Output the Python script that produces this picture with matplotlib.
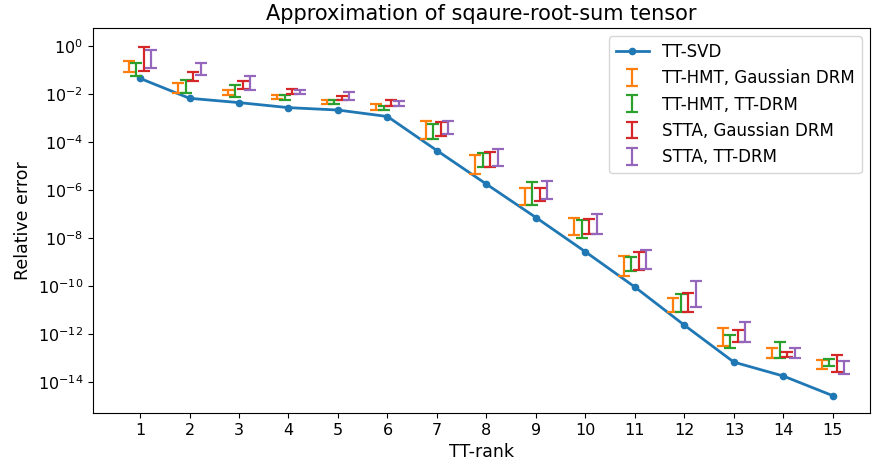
import numpy as np
import matplotlib
matplotlib.use("Agg")
import matplotlib.pyplot as plt
from matplotlib.ticker import NullLocator

ranks = np.arange(1, 16)

# log10 of TT-SVD relative error
svd_log = [-1.35, -2.18, -2.36, -2.57, -2.67, -2.94, -4.36, -5.76, -7.15,
           -8.58, -10.05, -11.64, -13.18, -13.76, -14.58]

# log10 of (top, bottom) of each error bar
hmt_gauss = [(-0.61, -1.10), (-1.53, -1.95), (-1.83, -2.03), (-2.03, -2.22),
             (-2.24, -2.40), (-2.43, -2.67), (-3.14, -3.88), (-4.54, -5.32),
             (-5.92, -6.61), (-7.15, -7.90), (-8.75, -9.58), (-10.50, -11.11),
             (-11.76, -12.50), (-12.57, -13.01), (-13.08, -13.46)]
hmt_tt = [(-0.70, -1.24), (-1.42, -1.95), (-1.64, -2.11), (-2.05, -2.26),
          (-2.26, -2.40), (-2.49, -2.65), (-3.26, -3.88), (-4.47, -5.03),
          (-5.69, -6.61), (-7.25, -8.01), (-8.80, -9.36), (-10.35, -11.07),
          (-12.04, -12.57), (-12.35, -12.99), (-13.04, -13.32)]
stta_gauss = [(-0.03, -1.03), (-1.07, -1.45), (-1.46, -1.80), (-1.78, -2.00),
              (-2.08, -2.25), (-2.25, -2.50), (-3.17, -3.75), (-4.44, -5.03),
              (-5.92, -6.46), (-7.21, -7.83), (-8.57, -9.33), (-10.31, -11.08),
              (-11.83, -12.35), (-12.76, -12.97), (-12.88, -13.60)]
stta_tt = [(-0.17, -0.93), (-0.72, -1.21), (-1.24, -1.83), (-1.82, -2.00),
           (-1.93, -2.24), (-2.30, -2.49), (-3.11, -3.67), (-4.29, -5.00),
           (-5.64, -6.39), (-6.99, -7.85), (-8.51, -9.30), (-9.80, -10.88),
           (-11.50, -12.33), (-12.57, -13.01), (-13.15, -13.67)]

methods = ["TT-HMT, Gaussian DRM", "TT-HMT, TT-DRM",
           "STTA, Gaussian DRM", "STTA, TT-DRM"]
bars = [hmt_gauss, hmt_tt, stta_gauss, stta_tt]
colors = ["tab:orange", "tab:green", "tab:red", "tab:purple"]
offsets = [-0.225, -0.075, 0.075, 0.225]

fig = plt.figure(figsize=(8.73, 4.72), dpi=100)
ax = fig.add_axes([93 / 873, 1 - 413 / 472, 777 / 873, 385 / 472])

ax.plot(ranks, 10.0 ** np.array(svd_log), marker='o', markersize=4.5,
        color='tab:blue', linewidth=2, label="TT-SVD")

for name, b, c, off in zip(methods, bars, colors, offsets):
    b = np.array(b)
    hi = 10.0 ** b[:, 0]
    lo = 10.0 ** b[:, 1]
    mid = np.sqrt(hi * lo)
    ax.errorbar(ranks + off, mid, yerr=[mid - lo, hi - mid], fmt='none',
                ecolor=c, elinewidth=1.6, capsize=4, capthick=1.6, label=name)

ax.set_yscale('log')
ax.set_ylim(10 ** -15.3, 10 ** 0.75)
ax.set_xlim(0.05, 15.75)
ax.set_xticks(ranks)
ax.set_yticks([10.0 ** k for k in range(0, -15, -2)])
ax.yaxis.set_minor_locator(NullLocator())

ax.set_title("Approximation of sqaure-root-sum tensor", fontsize=15)
ax.set_xlabel("TT-rank", fontsize=12.5)
ax.set_ylabel("Relative error", fontsize=12.5)
ax.tick_params(labelsize=11.5)
ax.legend(loc='upper right', fontsize=12)

fig.savefig("out.png", dpi=100)
plt.close(fig)
